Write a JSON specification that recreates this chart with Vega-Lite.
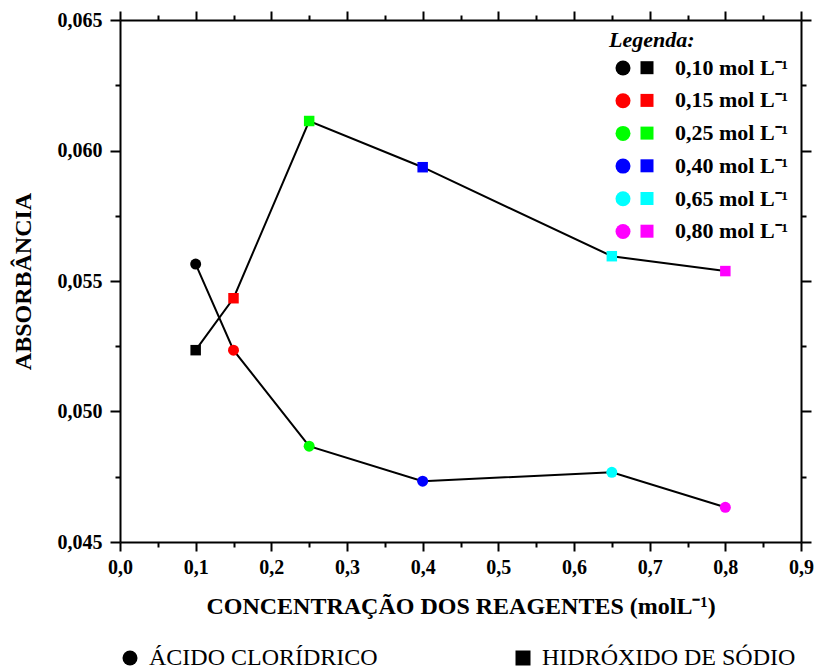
{
  "$schema": "https://vega.github.io/schema/vega-lite/v6.json",
  "width": 681,
  "height": 522,
  "autosize": {"type": "none"},
  "padding": {"left": 120, "top": 20, "right": 16, "bottom": 129},
  "background": "white",
  "config": {
    "view": {"stroke": null},
    "font": "Liberation Serif",
    "axis": {
      "domainColor": "black",
      "domainWidth": 2,
      "tickColor": "black",
      "tickWidth": 2,
      "grid": false,
      "labelFont": "Liberation Serif",
      "labelFontWeight": "bold",
      "labelFontSize": 20,
      "labelColor": "black",
      "labelOverlap": false,
      "labelBound": false,
      "labelFlush": false,
      "titleFont": "Liberation Serif",
      "titleFontWeight": "bold",
      "titleFontSize": 24,
      "titleColor": "black"
    },
    "legend": {
      "labelFont": "Liberation Serif",
      "labelColor": "black",
      "titleFont": "Liberation Serif",
      "titleColor": "black",
      "padding": 0
    }
  },
  "data": {
    "values": [
      {"conc": 0.10, "absorbancia": 0.05565, "serie": "ÁCIDO CLORÍDRICO", "rotulo": "0,10 mol L⁻¹"},
      {"conc": 0.15, "absorbancia": 0.05235, "serie": "ÁCIDO CLORÍDRICO", "rotulo": "0,15 mol L⁻¹"},
      {"conc": 0.25, "absorbancia": 0.04867, "serie": "ÁCIDO CLORÍDRICO", "rotulo": "0,25 mol L⁻¹"},
      {"conc": 0.40, "absorbancia": 0.04733, "serie": "ÁCIDO CLORÍDRICO", "rotulo": "0,40 mol L⁻¹"},
      {"conc": 0.65, "absorbancia": 0.04767, "serie": "ÁCIDO CLORÍDRICO", "rotulo": "0,65 mol L⁻¹"},
      {"conc": 0.80, "absorbancia": 0.04633, "serie": "ÁCIDO CLORÍDRICO", "rotulo": "0,80 mol L⁻¹"},
      {"conc": 0.10, "absorbancia": 0.05235, "serie": "HIDRÓXIDO DE SÓDIO", "rotulo": "0,10 mol L⁻¹"},
      {"conc": 0.15, "absorbancia": 0.05434, "serie": "HIDRÓXIDO DE SÓDIO", "rotulo": "0,15 mol L⁻¹"},
      {"conc": 0.25, "absorbancia": 0.06113, "serie": "HIDRÓXIDO DE SÓDIO", "rotulo": "0,25 mol L⁻¹"},
      {"conc": 0.40, "absorbancia": 0.05936, "serie": "HIDRÓXIDO DE SÓDIO", "rotulo": "0,40 mol L⁻¹"},
      {"conc": 0.65, "absorbancia": 0.05595, "serie": "HIDRÓXIDO DE SÓDIO", "rotulo": "0,65 mol L⁻¹"},
      {"conc": 0.80, "absorbancia": 0.05538, "serie": "HIDRÓXIDO DE SÓDIO", "rotulo": "0,80 mol L⁻¹"}
    ]
  },
  "layer": [
    {
      "mark": {"type": "line", "color": "black", "strokeWidth": 2},
      "encoding": {
        "x": {
          "field": "conc", "type": "quantitative",
          "scale": {"domain": [0, 0.9], "nice": false, "zero": false},
          "axis": {
            "orient": "bottom",
            "title": "CONCENTRAÇÃO DOS REAGENTES (molL⁻¹)",
            "titlePadding": 17,
            "values": [0, 0.05, 0.1, 0.15, 0.2, 0.25, 0.3, 0.35, 0.4, 0.45, 0.5, 0.55, 0.6, 0.65, 0.7, 0.75, 0.8, 0.85, 0.9],
            "tickSize": {"condition": {"test": "abs(datum.value*10 - round(datum.value*10)) < 0.001", "value": 9}, "value": 5},
            "labelPadding": 6,
            "labelExpr": "abs(datum.value*10 - round(datum.value*10)) < 0.001 ? replace(format(datum.value, '.1f'), '.', ',') : ''"
          }
        },
        "y": {
          "field": "absorbancia", "type": "quantitative",
          "scale": {"domain": [0.045, 0.065], "nice": false, "zero": false},
          "axis": {
            "orient": "left",
            "title": "ABSORBÂNCIA",
            "titlePadding": 22,
            "values": [0.045, 0.0475, 0.05, 0.0525, 0.055, 0.0575, 0.06, 0.0625, 0.065],
            "tickSize": {"condition": {"test": "abs(datum.value*200 - round(datum.value*200)) < 0.001", "value": 10}, "value": 5},
            "labelPadding": 8,
            "labelExpr": "abs(datum.value*200 - round(datum.value*200)) < 0.001 ? replace(format(datum.value, '.3f'), '.', ',') : ''"
          }
        },
        "detail": {"field": "serie"},
        "order": {"field": "conc"}
      }
    },
    {
      "transform": [{"filter": "datum.serie == 'ÁCIDO CLORÍDRICO'"}],
      "mark": {"type": "point", "filled": true, "size": 121, "opacity": 1, "strokeWidth": 0},
      "encoding": {
        "x": {
          "field": "conc", "type": "quantitative",
          "axis": {
            "orient": "top", "title": null, "labels": false,
            "values": [0, 0.05, 0.1, 0.15, 0.2, 0.25, 0.3, 0.35, 0.4, 0.45, 0.5, 0.55, 0.6, 0.65, 0.7, 0.75, 0.8, 0.85, 0.9],
            "tickSize": {"condition": {"test": "abs(datum.value*10 - round(datum.value*10)) < 0.001", "value": 9}, "value": 5}
          }
        },
        "y": {
          "field": "absorbancia", "type": "quantitative",
          "axis": {
            "orient": "right", "title": null, "labels": false,
            "values": [0.045, 0.0475, 0.05, 0.0525, 0.055, 0.0575, 0.06, 0.0625, 0.065],
            "tickSize": {"condition": {"test": "abs(datum.value*200 - round(datum.value*200)) < 0.001", "value": 10}, "value": 5}
          }
        },
        "color": {
          "field": "rotulo", "type": "nominal",
          "scale": {"range": ["#000000", "#ff0000", "#00ff00", "#0000ff", "#00ffff", "#ff00ff"]},
          "legend": {
            "orient": "none", "legendX": 489, "legendY": 10,
            "title": "Legenda:", "titleFontSize": 22, "titleFontWeight": "bold", "titleFontStyle": "italic",
            "titlePadding": 5,
            "symbolType": "circle", "symbolSize": 225, "symbolStrokeWidth": 0, "symbolOffset": 3,
            "labelFontSize": 22, "labelFontWeight": "bold", "labelExpr": "''", "labelOffset": 0,
            "rowPadding": 10.7
          }
        },
        "shape": {
          "field": "serie", "type": "nominal",
          "scale": {"domain": ["ÁCIDO CLORÍDRICO", "HIDRÓXIDO DE SÓDIO"], "range": ["circle", "square"]},
          "legend": {
            "orient": "none", "legendX": -2, "legendY": 626, "direction": "horizontal",
            "title": null, "symbolSize": 225, "symbolFillColor": "black", "symbolStrokeColor": "black",
            "symbolStrokeWidth": 0,
            "labelFontSize": 24, "labelFontWeight": "normal", "labelOffset": 7, "columnPadding": 133,
            "labelLimit": 400
          }
        }
      }
    },
    {
      "transform": [{"filter": "datum.serie == 'HIDRÓXIDO DE SÓDIO'"}],
      "mark": {"type": "point", "filled": true, "size": 110, "opacity": 1, "strokeWidth": 0},
      "encoding": {
        "x": {"field": "conc", "type": "quantitative", "axis": null},
        "y": {"field": "absorbancia", "type": "quantitative", "axis": null},
        "fill": {
          "field": "rotulo", "type": "nominal",
          "scale": {"range": ["#000000", "#ff0000", "#00ff00", "#0000ff", "#00ffff", "#ff00ff"]},
          "legend": {
            "orient": "none", "legendX": 516, "legendY": 36.7,
            "title": null,
            "symbolType": "square", "symbolSize": 169, "symbolStrokeWidth": 0,
            "labelFontSize": 22, "labelFontWeight": "bold", "labelOffset": 17,
            "rowPadding": 10.7
          }
        },
        "shape": {"field": "serie", "type": "nominal"}
      }
    }
  ],
  "resolve": {"axis": {"x": "independent", "y": "independent"}}
}
